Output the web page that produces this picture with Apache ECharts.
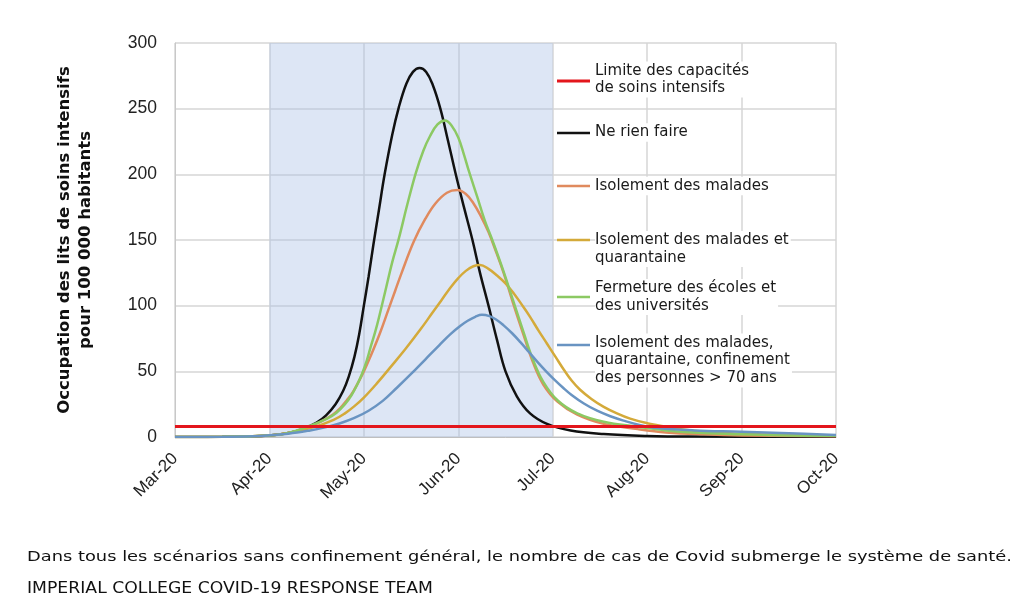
<!DOCTYPE html>
<html><head><meta charset="utf-8">
<script src="https://cdn.jsdelivr.net/npm/echarts@6/dist/echarts.min.js"></script>
<style>html,body{margin:0;padding:0;background:#fff}#c{width:1024px;height:611px}</style>
</head><body><div id="c"></div>
<script>
// ---------- data (x = months since 1 March 2020) ----------
const monthLabels = ['Mar-20','Apr-20','May-20','Jun-20','Jul-20','Aug-20','Sep-20','Oct-20'];
const yTicks = [0, 50, 100, 150, 200, 250, 300];
const seriesNames = [
  'Limite des capacités\nde soins intensifs',
  'Ne rien faire',
  'Isolement des malades',
  'Isolement des malades et\nquarantaine',
  'Fermeture des écoles et\ndes universités',
  'Isolement des malades,\nquarantaine, confinement\ndes personnes > 70 ans'
];
const shadedPeriod = [1, 4]; // Apr-20 .. Jul-20
const capacityLimit = 8;
const capacity = [[0, capacityLimit], [7, capacityLimit]];
const doNothing = [[0,0],[0.5,0.1],[0.8,0.4],[1.0,1.2],[1.2,3],[1.35,6],[1.5,11],[1.6,16.5],[1.7,25],[1.78,35],[1.84,46],[1.9,61],[1.95,78],[2.0,100],[2.05,122],[2.10,146],[2.16,173],[2.22,200],[2.30,230],[2.37,251],[2.45,269],[2.52,278],[2.59,281],[2.66,278],[2.73,268],[2.81,250],[2.89,226],[2.97,201],[3.06,175],[3.15,150],[3.23,125],[3.32,100],[3.41,74],[3.50,50],[3.62,31],[3.76,18],[3.94,10],[4.19,5],[4.54,2.3],[5.0,0.8],[5.5,0.3],[7,0.1]];
const caseIsolation = [[0,0],[0.5,0.1],[1.0,1.2],[1.2,3],[1.4,7],[1.54,11.5],[1.67,17],[1.75,22],[1.82,28],[1.89,35],[2.0,50],[2.08,63],[2.17,79],[2.26,97],[2.33,111],[2.40,125],[2.53,149],[2.65,166],[2.76,178],[2.88,186],[2.99,188],[3.08,185],[3.16,178],[3.24,168],[3.32,156],[3.40,141],[3.48,125],[3.58,102],[3.69,78],[3.79,57],[3.90,40],[4.05,27],[4.26,17],[4.54,10],[4.9,6],[5.2,3.5],[5.6,2],[6.0,1.2],[7,0.5]];
const isolationQuarantine = [[0,0],[0.5,0.1],[1.0,1.2],[1.2,3],[1.47,7.5],[1.68,13],[1.8,18],[1.9,23.5],[2.0,30],[2.14,41],[2.28,53],[2.44,67],[2.6,82],[2.72,94],[2.82,104],[2.92,114],[3.0,121],[3.08,126.5],[3.16,130],[3.23,131],[3.32,128],[3.41,123],[3.50,117],[3.59,109],[3.68,100],[3.76,91.5],[3.85,81],[3.94,71],[4.03,61],[4.12,51],[4.20,43],[4.29,36],[4.41,29],[4.54,23],[4.68,18],[4.82,14],[5.0,10.5],[5.11,9],[5.4,5.5],[5.8,3],[6.2,2],[7,1]];
const schoolClosure = [[0,0],[0.5,0.1],[1.0,1.2],[1.2,3],[1.43,8.6],[1.61,14],[1.71,18.5],[1.80,25],[1.87,32],[1.93,40],[1.98,48],[2.03,58],[2.07,68],[2.12,80],[2.16,91],[2.24,115],[2.30,133],[2.37,151],[2.46,177],[2.55,201],[2.63,218],[2.70,229],[2.78,238],[2.86,241],[2.93,237],[3.0,228],[3.06,215],[3.11,203],[3.20,183],[3.28,165],[3.36,150],[3.47,128],[3.58,104],[3.69,80],[3.79,59],[3.90,42],[4.05,28],[4.26,18],[4.54,11.6],[4.90,7.8],[5.2,5],[5.6,3],[6.0,2],[6.5,1.2],[7,1]];
const isolationQuarantineElderly = [[0,0],[0.5,0.2],[0.9,0.8],[1.2,2.5],[1.43,5],[1.6,7.5],[1.75,10.5],[1.9,14.5],[2.05,20],[2.2,27.5],[2.35,37.5],[2.5,48],[2.65,59],[2.8,70],[2.92,78.5],[3.02,84.5],[3.1,88.5],[3.18,91.5],[3.25,93],[3.33,92],[3.40,89.5],[3.48,85],[3.57,79],[3.66,72],[3.75,64.5],[3.84,57],[3.93,50],[4.02,43.5],[4.11,37.5],[4.2,32],[4.33,25.5],[4.47,20],[4.61,15.8],[4.75,12.5],[4.93,9],[5.11,6.8],[5.5,5],[6.0,4],[6.5,2.8],[7,1.5]];
const captionText = 'Dans tous les scénarios sans confinement général, le nombre de cas de Covid submerge le système de santé.';
const sourceText = 'IMPERIAL COLLEGE COVID-19 RESPONSE TEAM';

// ---------- styles / layout ----------
const colors = ['#e3161c', '#111111', '#e08a5e', '#d4aa3a', '#8cc963', '#6994c2'];
const lineWidths = [3, 2.5, 2.5, 2.5, 2.5, 2.5];
const seriesData = [capacity, doNothing, caseIsolation, isolationQuarantine, schoolClosure, isolationQuarantineElderly];
const legendLayout = [
  { iconY: 81, textY: 79.5 },
  { iconY: 133, textY: 132.5 },
  { iconY: 186, textY: 186 },
  { iconY: 240, textY: 249 },
  { iconY: 297, textY: 297 },
  { iconY: 345, textY: 360.5 }
];
const captionLayout = [
  { text: captionText, x: 27, y: 557, width: 985, font: '14.5px "DejaVu Sans"' },
  { text: sourceText, x: 27, y: 589, width: 406, font: '15.5px "DejaVu Sans"' }
];

const measureCtx = document.createElement('canvas').getContext('2d');
function textWidth(t, font) { measureCtx.font = font; return measureCtx.measureText(t).width; }

const chart = echarts.init(document.getElementById('c'), null, { renderer: 'canvas' });

const series = [{
  name: 'shade', type: 'line', data: [], z: 1, silent: true,
  markArea: {
    silent: true,
    itemStyle: { color: 'rgba(170,192,230,0.40)' },
    data: [[{ xAxis: shadedPeriod[0] }, { xAxis: shadedPeriod[1] }]]
  }
}];
[1, 2, 3, 4, 5, 0].forEach(i => {
  series.push({
    name: seriesNames[i], type: 'line', data: seriesData[i],
    symbol: 'none', smooth: i === 0 ? false : 0.4,
    z: i === 0 ? 4 : 3,
    lineStyle: { color: colors[i], width: lineWidths[i] },
    itemStyle: { color: colors[i] }
  });
});

const graphics = [];
seriesNames.forEach((nm, i) => {
  const L = legendLayout[i];
  graphics.push({
    type: 'line', z: 10,
    shape: { x1: 557, y1: L.iconY, x2: 590, y2: L.iconY },
    style: { stroke: colors[i], lineWidth: lineWidths[i] }
  });
  graphics.push({
    type: 'text', z: 10, x: 595, y: L.textY,
    style: {
      text: nm, fill: '#1a1a1a', font: '15px "DejaVu Sans"',
      lineHeight: 17.6, textAlign: 'left', textVerticalAlign: 'middle',
      backgroundColor: '#ffffff', padding: [1, 2, 0, 0]
    }
  });
});
captionLayout.forEach(c => {
  graphics.push({
    type: 'text', x: c.x, y: c.y, scaleX: c.width / textWidth(c.text, c.font), originX: 0, originY: 0,
    style: { text: c.text, fill: '#111', font: c.font, textVerticalAlign: 'middle' }
  });
});

chart.setOption({
  animation: false,
  backgroundColor: '#ffffff',
  grid: { left: 175, right: 188, top: 43, bottom: 174, containLabel: false },
  tooltip: { trigger: 'axis' },
  xAxis: {
    type: 'value', min: 0, max: 7, interval: 1,
    axisLine: { show: true, lineStyle: { color: '#bfbfbf', width: 1 } },
    axisTick: { show: false },
    splitLine: { show: true, lineStyle: { color: '#d6d6d6', width: 1.5 } },
    axisLabel: {
      rotate: 45, margin: 19, fontSize: 17, color: '#222',
      fontFamily: '"Liberation Sans", Arial, sans-serif',
      formatter: v => monthLabels[Math.round(v)] || ''
    }
  },
  yAxis: {
    type: 'value', min: yTicks[0], max: yTicks[yTicks.length - 1], interval: 50,
    name: 'Occupation des lits de soins intensifs\npour 100 000 habitants',
    nameLocation: 'middle', nameRotate: 90, nameGap: 78,
    nameTextStyle: { fontFamily: '"DejaVu Sans"', fontWeight: 'bold', fontSize: 16.5, color: '#111', lineHeight: 21.7 },
    axisLine: { show: true, lineStyle: { color: '#c8c8c8' } },
    axisTick: { show: false },
    splitLine: { show: true, lineStyle: { color: '#d6d6d6', width: 1.5 } },
    axisLabel: { margin: 18, fontSize: 17.5, color: '#222', fontFamily: '"Liberation Sans", Arial, sans-serif' }
  },
  series: series,
  graphic: graphics
});
</script></body></html>
